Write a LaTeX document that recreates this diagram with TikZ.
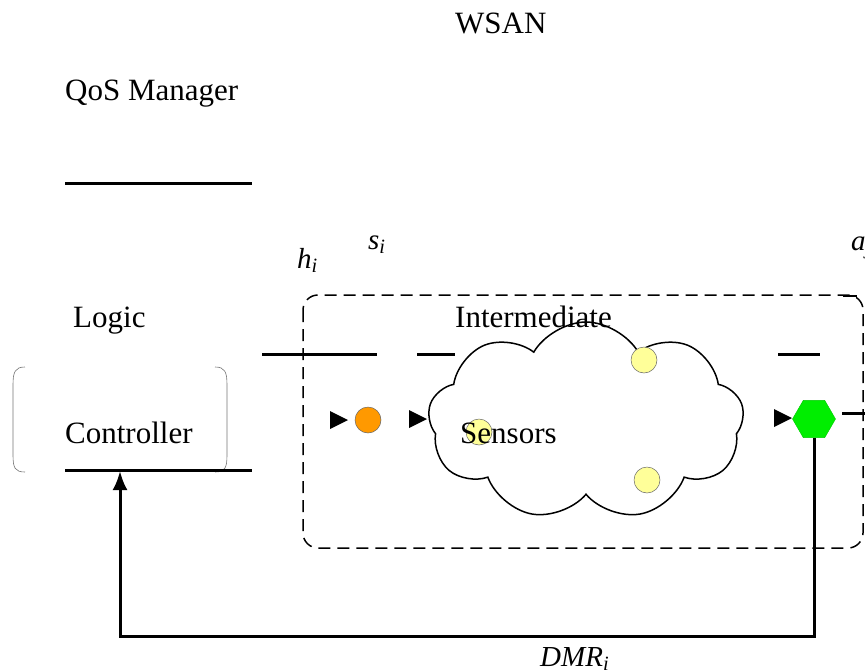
\documentclass[tikz,border=0pt]{standalone}
\usepackage{fontspec}
\setmainfont{Liberation Serif}
\usetikzlibrary{shapes.geometric,shapes.symbols,arrows.meta}
\definecolor{srcorange}{HTML}{FF9900}
\definecolor{sensyellow}{HTML}{FFFF99}
\definecolor{actgreen}{HTML}{00EE00}

\begin{document}
\begin{tikzpicture}[x=1pt, y=-1pt,
    lbl/.style={font=\fontsize{31}{36}\selectfont, inner sep=0pt, anchor=base west},
    var/.style={font=\fontsize{29}{34}\selectfont\itshape, inner sep=0pt, anchor=base west},
    bar/.style={line width=3pt},
    bracket/.style={draw=black!55, line width=0.6pt},
    dashbox/.style={line width=1.5pt, dash pattern=on 12pt off 7pt, rounded corners=15pt},
    cloudnode/.style={cloud, draw, line width=1.5pt, cloud puffs=9, cloud puff arc=120, minimum width=316pt, minimum height=198pt, inner sep=0pt},
    dot/.style={circle, draw=black!60, line width=0.5pt, fill=sensyellow, minimum size=26pt, inner sep=0pt},
    hexa/.style={regular polygon, regular polygon sides=6, minimum size=43pt, inner sep=0pt, fill=actgreen, draw=actgreen!85!black, line width=0.4pt},
    fb/.style={line width=3pt, -{Latex[length=19pt,width=15pt]}}
]
\useasboundingbox (0,0) rectangle (865,670);
\clip (0,0) rectangle (865,670);

% Titles
\node[lbl] (wsan) at (455,33) {WSAN};
\node[lbl] (qos) at (65,100) {QoS Manager};
\draw[bar] (65,183) -- (252,183);

% Variables
\node[var] (slab) at (368,249) {s\textsubscript{i}};
\node[var] (alab) at (851,250) {a\textsubscript{j}};
\node[var] (hlab) at (297,268) {h\textsubscript{i}};

% Network region
\draw[dashbox] (303,295) rectangle (863,548);
\draw[line width=2pt] (843,296) -- (857,296);
\node[cloudnode] (cloud) at (586,421) {};

% Controller
\draw[bracket] (25,367) .. controls (15,367) and (13,372) .. (13,385) -- (13,455) .. controls (13,468) and (15,472) .. (25,472);
\draw[bracket] (215,367) .. controls (225,367) and (227,372) .. (227,385) -- (227,455) .. controls (227,468) and (225,472) .. (215,472);
\node[lbl] (logic) at (73,327) {Logic};
\node[lbl] (ctrl) at (65,443) {Controller};
\draw[bar] (65,470) -- (252,470);

% Bars
\draw[bar] (262,354) -- (377,354);
\draw[bar] (417,354) -- (455,354);
\draw[bar] (778,354) -- (820,354);
\draw[bar] (842,413) -- (865,413);

% Nodes of the network
\node[circle, draw=black!60, line width=0.5pt, fill=srcorange, minimum size=26pt, inner sep=0pt] (src) at (368,420) {};
\node[dot] (sens1) at (479,432) {};
\node[dot] (sens2) at (644,360) {};
\node[dot] (sens3) at (647,480) {};
\node[hexa] (act) at (814,419) {};
\node[lbl] (inter) at (455,327) {Intermediate};
\node[lbl] (sensors) at (460,443) {Sensors};

% Arrow tips
\foreach \x/\y in {348/420, 427/419, 792/418}
    \fill (\x,\y) -- ++(-18,-9) -- ++(0,18) -- cycle;

% Feedback
\coordinate (ctrlbase) at (120,471);
\coordinate (fbcorner) at (120,636);
\draw[fb] (act.south) |- (fbcorner) -- (ctrlbase);
\node[var] (dmr) at (540,666) {DMR\textsubscript{i}};

\end{tikzpicture}
\end{document}
